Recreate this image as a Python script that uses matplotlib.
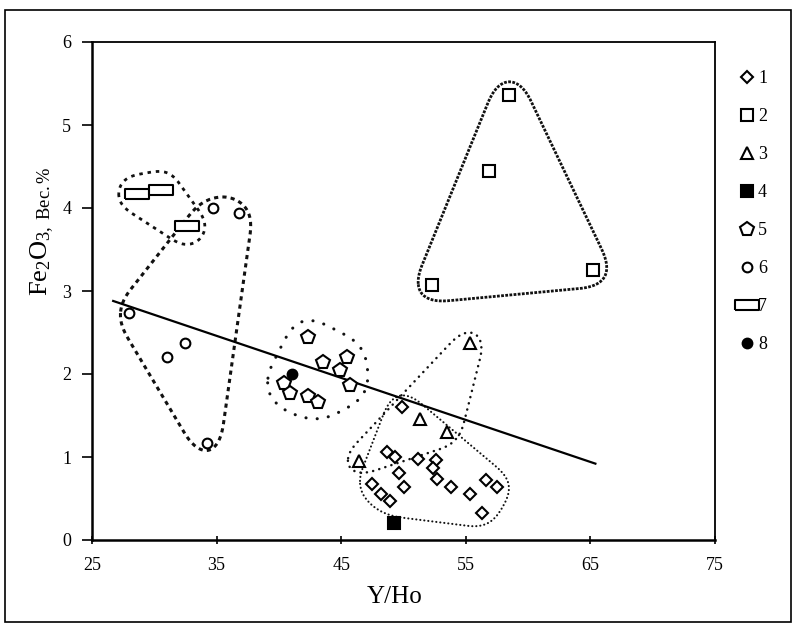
"""
Fe2O3 vs Y/Ho scatter diagram with group outlines and trend line.
"""
import numpy as np
import matplotlib
matplotlib.use("Agg")
import matplotlib.pyplot as plt
from matplotlib.lines import Line2D
from matplotlib.patches import Rectangle

plt.rcParams['font.family'] = ['Liberation Serif', 'DejaVu Serif']
plt.rcParams['mathtext.fontset'] = 'custom'
plt.rcParams['mathtext.rm'] = 'Liberation Serif'
plt.rcParams['mathtext.it'] = 'Liberation Serif:italic'
plt.rcParams['mathtext.bf'] = 'Liberation Serif:bold'
plt.rcParams['lines.scale_dashes'] = False

# Y/Ho (x) and Fe2O3, wt.% (y) for the eight groups
g1_x = [49.9, 48.7, 49.3, 51.2, 52.6, 52.4, 49.6, 52.7, 50.0, 47.5, 48.2, 48.9, 53.8, 55.3, 56.6, 57.5, 56.3]
g1_y = [1.60, 1.06, 1.00, 0.98, 0.96, 0.87, 0.81, 0.73, 0.64, 0.67, 0.55, 0.47, 0.64, 0.55, 0.72, 0.64, 0.33]
g2_x = [58.5, 56.9, 52.3, 65.2]
g2_y = [5.36, 4.45, 3.07, 3.25]
g3_x = [55.3, 51.3, 53.5, 46.4]
g3_y = [2.37, 1.46, 1.30, 0.95]
g4_x = [49.2]
g4_y = [0.20]
g5_x = [42.3, 43.5, 45.5, 44.9, 45.7, 40.4, 40.9, 42.3, 43.1]
g5_y = [2.45, 2.14, 2.20, 2.05, 1.87, 1.89, 1.77, 1.73, 1.66]
g6_x = [34.7, 36.8, 28.0, 31.0, 32.5, 34.2]
g6_y = [4.00, 3.94, 2.73, 2.20, 2.37, 1.17]
g7_x = [28.6, 30.5, 32.6]
g7_y = [4.17, 4.22, 3.78]
g8_x = [41.05]
g8_y = [2.00]

trend_x = [26.7, 65.4]
trend_y = [2.88, 0.92]

x_ticks = [25, 35, 45, 55, 65, 75]
y_ticks = [0, 1, 2, 3, 4, 5, 6]
legend_labels = ['1', '2', '3', '4', '5', '6', '7', '8']

# wide rectangle marker for group 7
rect_marker = [(-1, -0.42), (1, -0.42), (1, 0.42), (-1, 0.42), (-1, -0.42)]


def convex_hull(pts):
    pts = sorted(map(tuple, pts))
    def cross(o, a, b):
        return (a[0] - o[0]) * (b[1] - o[1]) - (a[1] - o[1]) * (b[0] - o[0])
    lower, upper = [], []
    for p in pts:
        while len(lower) >= 2 and cross(lower[-2], lower[-1], p) <= 0:
            lower.pop()
        lower.append(p)
    for p in reversed(pts):
        while len(upper) >= 2 and cross(upper[-2], upper[-1], p) <= 0:
            upper.pop()
        upper.append(p)
    return np.array(lower[:-1] + upper[:-1])


def outline(ax, xs, ys, pad, smooth=0.08, **kw):
    # padded convex hull around a group (pixel space), rounded off with a
    # circular moving average along the perimeter (keeps it convex)
    disp = ax.transData.transform(np.column_stack([xs, ys]))
    ang = np.linspace(0, 2 * np.pi, 72, endpoint=False)
    ring = np.column_stack([np.cos(ang), np.sin(ang)]) * pad
    cloud = (disp[:, None, :] + ring[None, :, :]).reshape(-1, 2)
    h = convex_hull(cloud)
    h = np.vstack([h, h[:1]])
    seg = np.hypot(*np.diff(h, axis=0).T)
    s = np.concatenate([[0], np.cumsum(seg)])
    n = 500
    t = np.linspace(0, s[-1], n, endpoint=False)
    px = np.interp(t, s, h[:, 0])
    py = np.interp(t, s, h[:, 1])
    w = max(1, int(n * smooth))
    kern = np.ones(w) / w
    px = np.convolve(np.concatenate([px[-w:], px, px[:w]]), kern, 'same')[w:-w]
    py = np.convolve(np.concatenate([py[-w:], py, py[:w]]), kern, 'same')[w:-w]
    pts = np.column_stack([px, py])
    pts = np.vstack([pts, pts[:1]])
    data = ax.transData.inverted().transform(pts)
    ax.plot(data[:, 0], data[:, 1], color='#111111', **kw)


fig = plt.figure(figsize=(7.94, 6.32), dpi=100)
ax = fig.add_axes([92 / 794, 1 - 540 / 632, 623 / 794, 498 / 632])
ax.set_xlim(25, 75)
ax.set_ylim(0, 6)

# group outlines
outline(ax, g2_x, g2_y, 17, smooth=0.06, lw=2.0, linestyle=(0, (2.0, 1.0)),
        dash_capstyle='butt')
outline(ax, g7_x, g7_y, 19, smooth=0.08, lw=2.0, linestyle=(0, (2.5, 3.5)),
        dash_capstyle='butt')
outline(ax, g6_x, g6_y, 14, smooth=0.08, lw=2.2, linestyle=(0, (3.0, 3.0)),
        dash_capstyle='butt')
outline(ax, g5_x, g5_y, 19, smooth=0.12, lw=2.2, linestyle=(0, (0.1, 8.0)),
        dash_capstyle='round')
outline(ax, g3_x, g3_y, 14, smooth=0.08, lw=1.8, linestyle=(0, (0.1, 4.5)),
        dash_capstyle='round')
outline(ax, g1_x, g1_y, 15, smooth=0.08, lw=1.5, linestyle=(0, (0.1, 2.8)),
        dash_capstyle='round')

# trend line
ax.plot(trend_x, trend_y, color='black', lw=1.6)

mk = dict(linestyle='none', color='black', mec='black', mfc='white', mew=1.5)
series = [
    (g1_x, g1_y, dict(marker='D', ms=6)),
    (g2_x, g2_y, dict(marker='s', ms=8)),
    (g3_x, g3_y, dict(marker='^', ms=8.5)),
    (g4_x, g4_y, dict(marker='s', ms=8.5, mfc='black')),
    (g5_x, g5_y, dict(marker='p', ms=10)),
    (g6_x, g6_y, dict(marker='o', ms=7)),
    (g7_x, g7_y, dict(marker=rect_marker, ms=17)),
    (g8_x, g8_y, dict(marker='o', ms=7, mfc='black')),
]
handles = []
for xs, ys, st in series:
    style = dict(mk)
    style.update(st)
    ax.plot(xs, ys, zorder=5, **style)
    handles.append(Line2D([], [], **style))

ax.set_xticks(x_ticks)
ax.set_yticks(y_ticks)
ax.tick_params(axis='x', direction='inout', length=6, width=1.2, pad=9, labelsize=13)
ax.tick_params(axis='y', direction='out', length=7, width=1.2, pad=8, labelsize=13)
for s in ax.spines.values():
    s.set_linewidth(1.3)
ax.spines['left'].set_linewidth(1.8)
ax.spines['bottom'].set_linewidth(1.8)

ax.set_xlabel('Y/Ho', fontsize=18)
ax.xaxis.set_label_coords(0.486, -0.092)
ax.set_ylabel(r'Fe$_2$O$_{3,\ \mathrm{Вес.\%}}$', fontsize=19)
ax.yaxis.set_label_coords(-0.058, 0.62)

fig.legend(handles, legend_labels, loc='upper left',
           bbox_to_anchor=(722 / 794, 1 - 54 / 632), frameon=False,
           fontsize=13, handlelength=1.0, handletextpad=0.1, labelspacing=1.16)

# outer frame around the whole figure
fig.patches.append(Rectangle((5 / 794, 1 - 622 / 632), 786 / 794, 612 / 632,
                             transform=fig.transFigure, fill=False,
                             edgecolor='black', lw=1.2))

fig.savefig('out.png', dpi=100)
